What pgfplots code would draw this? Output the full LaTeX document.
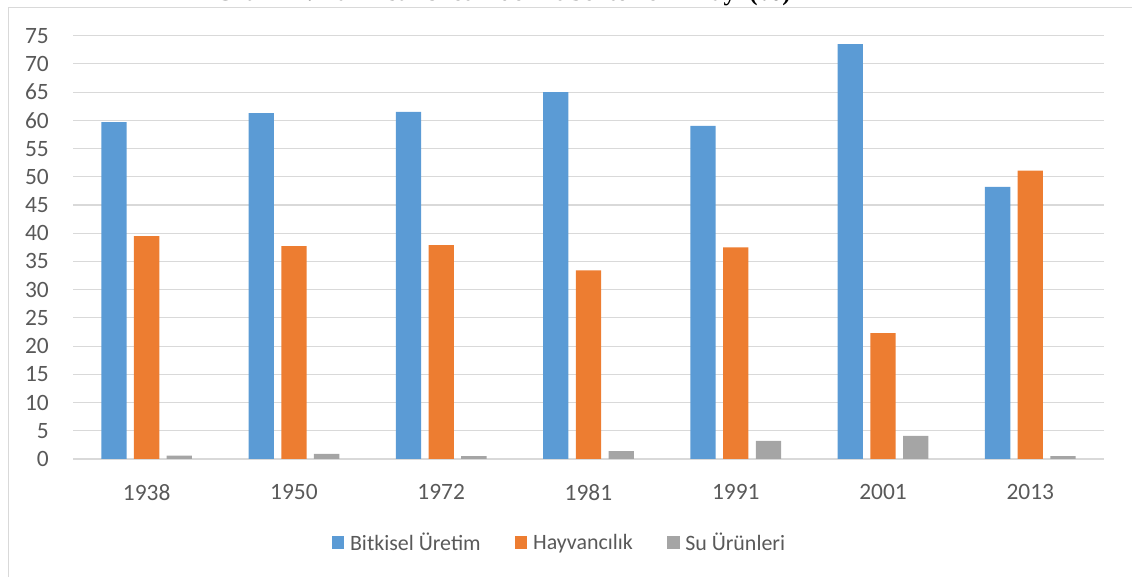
\documentclass[border=0pt]{standalone}
\usepackage{fontspec}
\setmainfont{Carlito}
\newfontfamily\titlefont{Liberation Serif}
\usepackage{pgfplots}
\pgfplotsset{compat=1.18}
\definecolor{cblue}{HTML}{5B9BD5}
\definecolor{corange}{HTML}{ED7D31}
\definecolor{cgray}{HTML}{A5A5A5}
\definecolor{cgrid}{HTML}{D9D9D9}
\definecolor{ctext}{HTML}{595959}
\begin{document}
\begin{tikzpicture}[x=1bp,y=1bp]
\path[use as bounding box, clip] (0,0) rectangle (1132,577);
\node[anchor=base west, inner sep=0, font=\titlefont\bfseries\fontsize{25}{30}\selectfont, text=black] at (215,576) {Grafik 4: Tarımsal Üretimde Alt Sektörlerin Payı (\%)};
\draw[cgrid, line width=1.3bp] (8.5,569.8) rectangle (1150,-20);
\begin{axis}[
  at={(73bp,118bp)}, anchor=south west,
  scale only axis, width=1031bp, height=423.3bp,
  xmin=-0.5, xmax=6.5, ymin=0, ymax=75,
  ytick={0,5,...,75},
  xtick={0,...,6}, xticklabels={1938,1950,1972,1981,1991,2001,2013},
  ymajorgrids, grid style={cgrid, line width=1.1bp},
  axis line style={draw=none},
  major tick length=0,
  ybar=7.4bp, bar width=25.3bp,
  tick label style={font=\fontsize{23.5}{28}\selectfont, text=ctext},
  /pgf/number format/assume math mode=true,
  xticklabel style={anchor=north, inner sep=0, yshift=-25.2bp},
  yticklabel style={anchor=east, inner sep=0, xshift=-24bp},
  legend columns=3,
  legend style={at={(0.2509,-0.1970)}, anchor=west, draw=none, fill=none, inner sep=0, outer sep=0,
    font=\fontsize{22}{26}\selectfont, text=ctext,
    /tikz/every odd column/.append style={column sep=5.7bp},
    /tikz/every even column/.append style={column sep=34bp},
    nodes={inner sep=0}},
  legend image code/.code={\fill[#1,draw=none] (0bp,-6.5bp) rectangle (12.7bp,6.2bp);},
]
\addplot[fill=cblue, draw=none] coordinates {(0,59.7) (1,61.3) (2,61.5) (3,65.0) (4,59.0) (5,73.5) (6,48.2)};
\addplot[fill=corange, draw=none] coordinates {(0,39.5) (1,37.7) (2,37.9) (3,33.4) (4,37.5) (5,22.3) (6,51.1)};
\addplot[fill=cgray, draw=none] coordinates {(0,0.6) (1,0.9) (2,0.5) (3,1.4) (4,3.2) (5,4.1) (6,0.5)};
\legend{Bitkisel Üretim, Hayvancılık, Su Ürünleri}
\end{axis}
\end{tikzpicture}
\end{document}
